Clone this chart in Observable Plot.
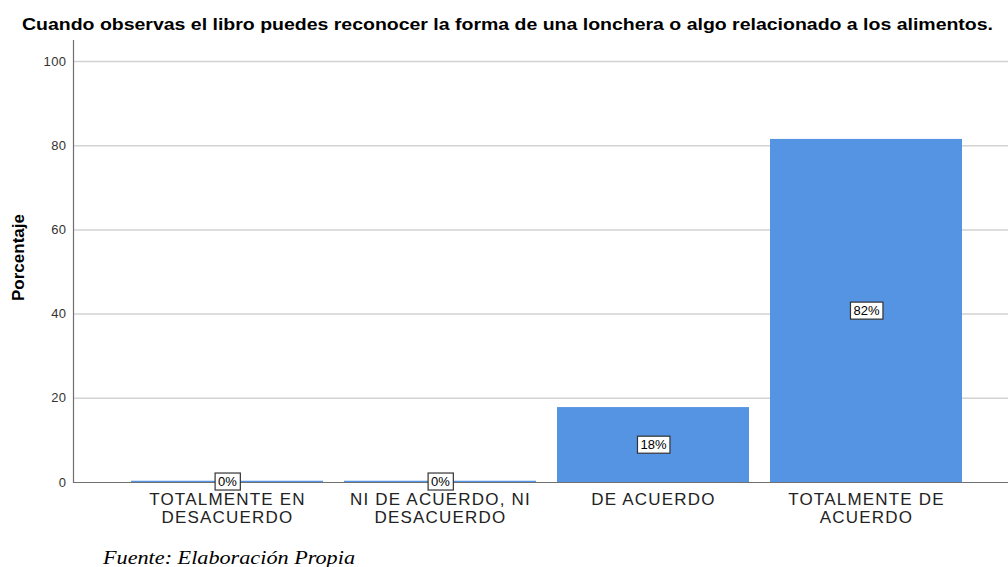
<!DOCTYPE html>
<html>
<head>
<meta charset="utf-8">
<script src="https://cdn.jsdelivr.net/npm/d3@7"></script>
<script src="https://cdn.jsdelivr.net/npm/@observablehq/plot@0.6"></script>
<style>
  html, body { margin: 0; padding: 0; background: white; width: 1008px; height: 567px; overflow: hidden; position: relative; }
  #title { position: absolute; top: 16px; left: 22px; white-space: nowrap; font-family: "Liberation Sans", Arial, sans-serif; font-weight: bold; font-size: 16px; color: #000; transform-origin: 0 0; }
  #chart { position: absolute; top: 0; left: 0; }
  #caption { position: absolute; top: 547px; left: 103px; white-space: nowrap; font-family: "Liberation Serif", "Times New Roman", serif; font-style: italic; font-size: 19px; color: #000; transform-origin: 0 0; }
  #chart g[aria-label="x-axis tick label"] text { letter-spacing: 1.2px; }
  #chart g[aria-label="y-axis tick label"] text { letter-spacing: 0.4px; }
</style>
</head>
<body>
<div id="chart"></div>
<div id="title">Cuando observas el libro puedes reconocer la forma de una lonchera o algo relacionado a los alimentos.</div>
<div id="caption">Fuente: Elaboración Propia</div>
<script>
const categories = ["TOTALMENTE EN DESACUERDO", "NI DE ACUERDO, NI DESACUERDO", "DE ACUERDO", "TOTALMENTE DE ACUERDO"];
const tickLabels = ["TOTALMENTE EN\nDESACUERDO", "NI DE ACUERDO, NI\nDESACUERDO", "DE ACUERDO", "TOTALMENTE DE\nACUERDO"];
const percents = [0.3, 0.3, 17.8, 81.5];
const barLabels = ["0%", "0%", "18%", "82%"];
const yTicks = [0, 20, 40, 60, 80, 100];
const gridTicks = [20, 40, 60, 80, 100];

const data = categories.map((c, i) => ({cat: c, pct: percents[i], label: barLabels[i]}));

const chart = Plot.plot({
  width: 1008,
  height: 540,
  marginTop: 40,
  marginBottom: 58,
  marginLeft: 73,
  marginRight: 0,
  style: {fontFamily: "'Liberation Sans', Arial, sans-serif", background: "white", overflow: "visible"},
  x: {domain: categories, range: [73, 1019], paddingInner: 0.1, paddingOuter: 0.27, label: null},
  y: {domain: [0, 105], label: null},
  marks: [
    Plot.ruleY(gridTicks, {stroke: "#d2d2d2", strokeWidth: 1.5}),
    Plot.barY(data, {x: "cat", y: "pct", fill: "#5593e3"}),
    Plot.ruleY([0], {stroke: "#707070", strokeWidth: 1.2}),
    Plot.frame({anchor: "left", stroke: "#707070", strokeWidth: 1.2}),
    Plot.axisY({ticks: yTicks, tickSize: 0, tickPadding: 7, fontSize: 13, fill: "#333", label: null}),
    Plot.axisX({tickSize: 0, tickPadding: 10, fontSize: 17, fill: "#222", lineHeight: 1.05, label: null,
      tickFormat: d => tickLabels[categories.indexOf(d)]}),
    Plot.text(["Porcentaje"], {frameAnchor: "left", textAnchor: "middle", rotate: -90, dx: -55, dy: -4, fontWeight: "bold", fontSize: 17, fill: "#000"}),
    Plot.text(data, {x: "cat", y: d => d.pct / 2, text: "label", fontSize: 13, fill: "#000", className: "vlabel"})
  ]
});
document.getElementById("chart").appendChild(chart);

// white boxes behind bar labels
chart.querySelectorAll(".vlabel text").forEach(t => {
  const b = t.getBBox();
  const r = document.createElementNS("http://www.w3.org/2000/svg", "rect");
  r.setAttribute("x", b.x - 3);
  r.setAttribute("y", b.y - 1);
  r.setAttribute("width", b.width + 6);
  r.setAttribute("height", b.height + 2);
  r.setAttribute("fill", "white");
  r.setAttribute("stroke", "#333");
  r.setAttribute("stroke-width", 1.2);
  const tr = t.getAttribute("transform");
  if (tr) r.setAttribute("transform", tr);
  t.parentNode.insertBefore(r, t);
});

// stretch title and caption horizontally to match reference widths
function fit(id, target) {
  const el = document.getElementById(id);
  const w = el.getBoundingClientRect().width;
  el.style.transform = `scaleX(${target / w})`;
}
fit("title", 971);
fit("caption", 252);
</script>
</body>
</html>
